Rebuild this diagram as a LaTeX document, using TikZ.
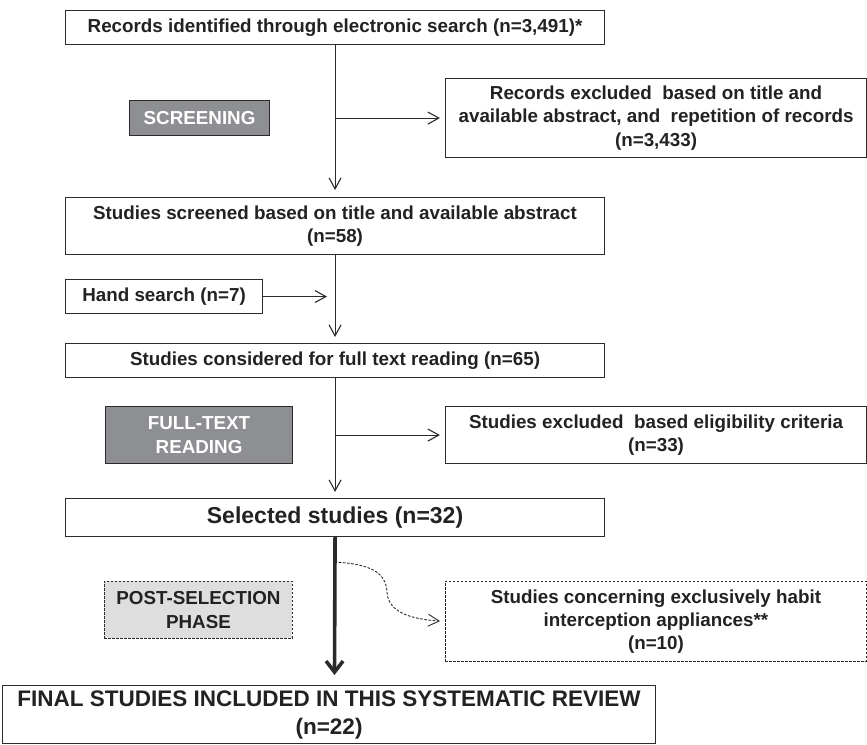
\documentclass[tikz,border=0pt]{standalone}
\usepackage{fontspec}
\setmainfont{Liberation Sans}
\usetikzlibrary{arrows.meta}
\definecolor{linec}{HTML}{2B2B2B}
\definecolor{txtc}{HTML}{222222}
\definecolor{darkfill}{HTML}{8E8F92}
\definecolor{lightfill}{HTML}{DEDEDF}
\begin{document}
\begin{tikzpicture}[x=1pt,y=-1pt,
  box/.style={draw=linec, line width=1.1pt, fill=white, text=txtc,
    font=\bfseries\fontsize{18.8}{23.3}\selectfont, align=center,
    inner sep=0pt, anchor=north west},
  phasebox/.style={box, fill=darkfill, text=white},
  dashbox/.style={box, dash pattern=on 2.4pt off 1.6pt, line width=0.9pt},
  bigtext/.style={font=\bfseries\fontsize{23}{28}\selectfont},
  arr/.style={draw=linec, line width=1.1pt,
    -{Straight Barb[length=11pt,width=12pt]}, shorten >=5pt},
  thickarr/.style={draw=linec, line width=3.6pt,
    -{Straight Barb[length=11pt,width=17pt]}},
  dasharr/.style={arr, line width=0.9pt, dash pattern=on 2.6pt off 1.6pt}
]
\useasboundingbox (0,0) rectangle (867,744);

\node[box, minimum width=539pt, minimum height=34pt] (top) at (65,10)
  {Records identified through electronic search (n=3,491)*};
\node[phasebox, minimum width=140pt, minimum height=35pt] (screen) at (129,100)
  {SCREENING};
\node[box, minimum width=421pt, minimum height=79pt] (rexcl) at (445,78)
  {Records excluded~ based on title and\\available abstract, and~ repetition of records\\(n=3,433)};
\node[box, minimum width=539pt, minimum height=57pt] (screened) at (65,197)
  {Studies screened based on title and available abstract\\(n=58)};
\node[box, minimum width=197pt, minimum height=34pt] (hand) at (65,279)
  {Hand search (n=7)};
\node[box, minimum width=539pt, minimum height=34pt] (considered) at (65,343)
  {Studies considered for full text reading (n=65)};
\node[phasebox, minimum width=187pt, minimum height=57pt] (fulltext) at (105,406)
  {FULL-TEXT\\READING};
\node[box, minimum width=421pt, minimum height=57pt] (sexcl) at (445,406)
  {Studies excluded~ based eligibility criteria\\(n=33)};
\node[box, bigtext, minimum width=539pt, minimum height=38pt] (selected) at (65,498)
  {Selected studies (n=32)};
\node[dashbox, fill=lightfill, minimum width=188pt, minimum height=57pt] (post) at (104,581)
  {POST-SELECTION\\PHASE};
\node[dashbox, minimum width=421pt, minimum height=80pt] (concern) at (445,581)
  {Studies concerning exclusively habit\\interception appliances**\\(n=10)};
\node[box, font=\bfseries\fontsize{22.5}{28}\selectfont, minimum width=653pt, minimum height=58pt] (final) at (2,685)
  {FINAL STUDIES INCLUDED IN THIS SYSTEMATIC REVIEW\\(n=22)};

\coordinate (thickend) at (334.5,675);
\coordinate (dstart) at (334.5,562);

\draw[arr, shorten >=7pt] (top.south) -- (screened.north);
\draw[arr] (top.south |- rexcl.west) -- (rexcl.west);
\draw[arr, shorten >=6pt] (screened.south) -- (considered.north);
\draw[arr, shorten >=8pt] (hand.east) -- (hand.east -| screened.south);
\draw[arr, shorten >=6pt] (considered.south) -- (selected.north);
\draw[arr] (considered.south |- sexcl.west) -- (sexcl.west);
\draw[thickarr] (selected.south) -- (thickend);
\draw[dasharr] (dstart) .. controls (370,564) and (386,572) .. (387,592)
  .. controls (388,612) and (410,619) .. (concern.west);
\end{tikzpicture}
\end{document}
